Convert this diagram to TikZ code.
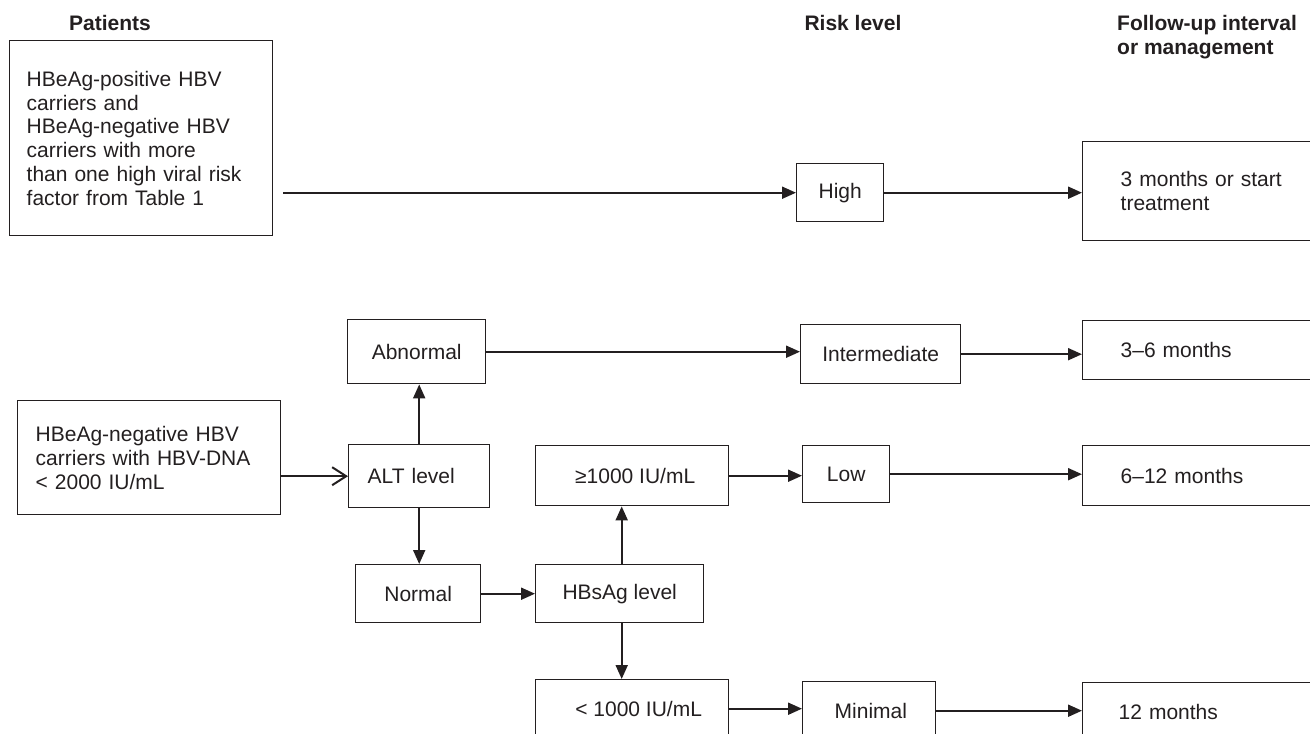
\documentclass[tikz,border=0pt]{standalone}
\usepackage{fontspec}
\setmainfont{Liberation Sans}
\usetikzlibrary{arrows.meta}
\definecolor{ink}{HTML}{231F20}
\tikzset{
  bx/.style={draw=ink, line width=1.4pt, rectangle, inner ysep=0pt, text=ink,
    font=\fontsize{21}{23.8}\selectfont, anchor=north west},
  lbx/.style={bx, align=left},
  cbx/.style={bx, align=center, inner xsep=0pt},
  hd/.style={text=ink, font=\fontsize{21}{23.8}\selectfont\bfseries, inner sep=0pt},
  arr/.style={draw=ink, line width=2pt, -{Triangle[length=14pt,width=12pt]}},
  oarr/.style={draw=ink, line width=2pt, -{Straight Barb[length=14pt,width=18pt,line width=2pt]}}
}
\begin{document}
\begin{tikzpicture}[x=1pt,y=-1pt]
\useasboundingbox (0,0) rectangle (1310,734);
\clip (0,0) rectangle (1310,734);
% headers
\node[hd, anchor=base] (hpat) at (110,30) {Patients};
\node[hd, anchor=base] (hrisk) at (853,30) {Risk level};
\node[hd, anchor=base west, align=left] (hfu) at (1117,54) {Follow-up interval\\or management};
% boxes
\node[lbx, inner xsep=17pt, text width=229pt, minimum height=195pt] (p1) at (9,40)
  {HBeAg-positive HBV\\carriers and\\HBeAg-negative HBV\\carriers with more\\than one high viral risk\\factor from Table 1};
\node[cbx, minimum width=87pt, minimum height=58pt] (high) at (796,163) {High};
\node[lbx, inner xsep=38pt, text width=184pt, minimum height=99pt] (fu1) at (1082,141)
  {3 months or start\\treatment};
\node[cbx, minimum width=138pt, minimum height=64pt] (abn) at (347,319) {Abnormal};
\node[cbx, minimum width=160pt, minimum height=59pt] (int) at (800,324) {Intermediate};
\node[lbx, inner xsep=38pt, text width=184pt, minimum height=59pt] (fu2) at (1082,320) {3–6 months};
\node[lbx, inner xsep=18pt, text width=227pt, minimum height=114pt] (p2) at (17,400)
  {HBeAg-negative HBV\\carriers with HBV-DNA\\< 2000 IU/mL};
\node[lbx, inner xsep=19pt, text width=103pt, minimum height=63pt] (alt) at (348,444) {ALT level};
\node[cbx, minimum width=125pt, minimum height=58pt] (normal) at (355,564) {Normal};
\node[cbx, minimum width=168pt, minimum height=58pt] (hbs) at (535,564) {HBsAg level};
\node[cbx, minimum width=193pt, minimum height=60pt] (ge) at (535,445) {\hspace*{6pt}≥1000 IU/mL};
\node[cbx, minimum width=87pt, minimum height=57pt] (low) at (802,445) {Low};
\node[lbx, inner xsep=38pt, text width=184pt, minimum height=60pt] (fu3) at (1082,445) {6–12 months};
\node[cbx, minimum width=193pt, minimum height=58pt] (lt) at (535,679) {\hspace*{13pt}< 1000 IU/mL};
\node[lbx, inner xsep=32pt, text width=69pt, minimum height=58pt] (minimal) at (802,681) {Minimal};
\node[lbx, inner xsep=36pt, text width=188pt, minimum height=58pt] (fu4) at (1082,682) {12 months};
% connectors
\draw[arr] ([xshift=10pt]p1.east |- high.west) -- (high.west);
\draw[arr] (high.east) -- (high.east -| fu1.west);
\draw[arr] (abn.east) -- (abn.east -| int.west);
\draw[arr] (int.east) -- (int.east -| fu2.west);
\draw[oarr] (p2.east |- alt.west) -- (alt.west);
\draw[arr] (alt.north) -- (alt.north |- abn.south);
\draw[arr] (alt.south) -- (alt.south |- normal.north);
\draw[arr] (normal.east) -- (normal.east -| hbs.west);
\draw[arr] ([xshift=2pt]hbs.north) -- ([xshift=2pt]hbs.north |- ge.south);
\draw[arr] ([xshift=2pt]hbs.south) -- ([xshift=2pt]hbs.south |- lt.north);
\draw[arr] (ge.east) -- (ge.east -| low.west);
\draw[arr] (low.east) -- (low.east -| fu3.west);
\draw[arr] (lt.east) -- (lt.east -| minimal.west);
\draw[arr] (minimal.east) -- (minimal.east -| fu4.west);
\end{tikzpicture}
\end{document}
